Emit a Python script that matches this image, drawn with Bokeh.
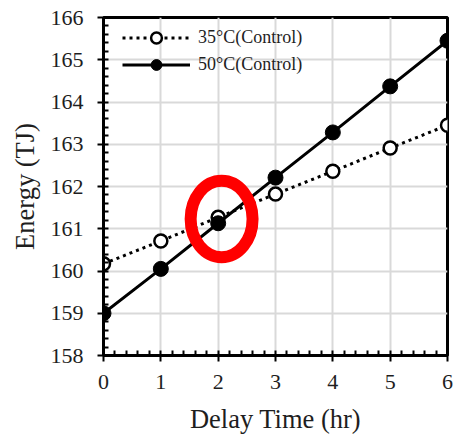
from bokeh.plotting import figure
from bokeh.models import (Range1d, SingleIntervalTicker, Legend, LegendItem, Ellipse, ColumnDataSource)
from bokeh.embed import file_html
from bokeh.resources import INLINE

delay_hr = [0, 1, 2, 3, 4, 5, 6]
energy_35c = [160.17, 160.71, 161.27, 161.82, 162.36, 162.91, 163.45]
energy_50c = [159.0, 160.05, 161.13, 162.21, 163.28, 164.37, 165.45]
label_35c = "35°C(Control)"
label_50c = "50°C(Control)"
highlight_x = [2.06]
highlight_y = [161.23]
highlight_w = [1.08]
highlight_h = [1.81]

FONT = "Liberation Serif"
TEXT = "#1e1e1e"

p = figure(width=454, height=439, output_backend="svg", toolbar_location=None,
           x_range=Range1d(0, 6), y_range=Range1d(158, 166),
           min_border_left=103, min_border_right=7, min_border_top=17, min_border_bottom=84)

p.background_fill_color = "white"
p.border_fill_color = "white"
p.outline_line_color = "black"
p.outline_line_width = 3

for ax, lab in ((p.xaxis[0], "Delay Time (hr)"), (p.yaxis[0], "Energy (TJ)")):
    ax.axis_label = lab
    ax.axis_label_text_font = FONT
    ax.axis_label_text_font_size = "26.5px"
    ax.axis_label_text_font_style = "normal"
    ax.axis_label_text_color = TEXT
    ax.major_label_text_font = FONT
    ax.major_label_text_font_size = "22px"
    ax.major_label_text_color = TEXT
    ax.axis_line_width = 3
    ax.axis_line_color = "black"
    ax.major_tick_in = 0
    ax.major_tick_out = 6
    ax.major_tick_line_width = 2
    ax.minor_tick_in = 5
    ax.minor_tick_out = 0
    ax.minor_tick_line_width = 2
    ax.ticker = SingleIntervalTicker(interval=1, num_minor_ticks=5)

p.xaxis.major_label_standoff = 13
p.yaxis.major_label_standoff = 14
p.xaxis.axis_label_standoff = 12
p.yaxis.axis_label_standoff = 8

p.grid.grid_line_color = "#d9d9d9"
p.grid.grid_line_width = 2

src35 = ColumnDataSource(dict(x=delay_hr, y=energy_35c))
src50 = ColumnDataSource(dict(x=delay_hr, y=energy_50c))

l35 = p.line("x", "y", source=src35, line_color="black", line_width=3, line_dash="3 4")
m35 = p.scatter("x", "y", source=src35, size=13, fill_color="white", line_color="black", line_width=2.5)
l50 = p.line("x", "y", source=src50, line_color="black", line_width=3)
m50 = p.scatter("x", "y", source=src50, size=15, fill_color="black", line_color="black")

hs = ColumnDataSource(dict(x=highlight_x, y=highlight_y, w=highlight_w, h=highlight_h))
p.add_glyph(hs, Ellipse(x="x", y="y", width="w", height="h", fill_color=None,
                        line_color="#ff0000", line_width=12))

legend = Legend(items=[LegendItem(label=label_35c, renderers=[l35, m35]),
                       LegendItem(label=label_50c, renderers=[l50, m50])],
                location=(19, 277), margin=0, padding=6, spacing=0,
                glyph_width=68, glyph_height=27, label_standoff=8,
                label_text_font=FONT, label_text_font_size="18px",
                label_text_color=TEXT,
                background_fill_alpha=0, border_line_color=None)
p.add_layout(legend)

open("out.html", "w").write(file_html(p, INLINE))
